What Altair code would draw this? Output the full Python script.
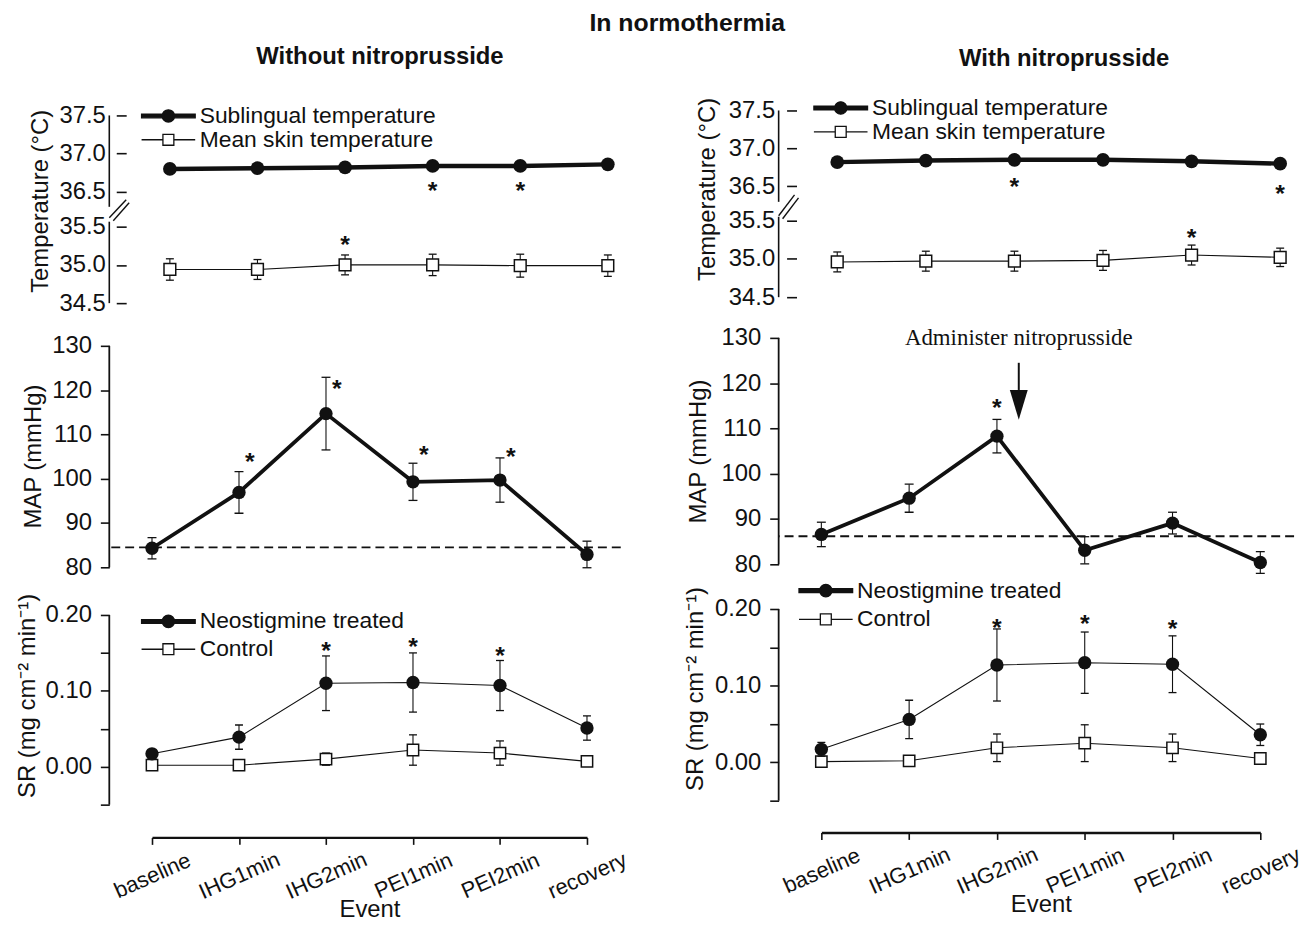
import altair as alt
import pandas as pd

EVENTS = ["baseline", "IHG1min", "IHG2min", "PEI1min", "PEI2min", "recovery"]
TEMP_SERIES = ["Sublingual temperature", "Mean skin temperature"]
SR_SERIES = ["Neostigmine treated", "Control"]

# ---------------- Without nitroprusside ----------------
L_SUBL = [36.80, 36.81, 36.82, 36.84, 36.84, 36.86]
L_SKIN = [34.94, 34.94, 35.00, 35.00, 34.99, 34.99]
L_SKIN_SE = [0.14, 0.13, 0.13, 0.14, 0.15, 0.14]
L_SUBL_STAR_EV = ["PEI1min", "PEI2min"]
L_SUBL_STAR_Y = [36.60, 36.60]
L_SKIN_STAR_EV = ["IHG2min"]
L_SKIN_STAR_Y = [35.35]
L_MAP = [84.3, 96.9, 114.7, 99.3, 99.7, 82.9]
L_MAP_SE = [2.4, 4.7, 8.2, 4.2, 5.0, 3.0]
L_MAP_REF = 84.5
L_MAP_STAR_EV = ["IHG1min", "IHG2min", "PEI1min", "PEI2min"]
L_MAP_STAR_Y = [105.3, 121.8, 106.9, 106.5]
L_NEO = [0.017, 0.039, 0.110, 0.111, 0.107, 0.051]
L_NEO_SE = [0.004, 0.016, 0.036, 0.039, 0.033, 0.016]
L_CTL = [0.002, 0.002, 0.010, 0.022, 0.018, 0.007]
L_CTL_SE = [0.001, 0.001, 0.008, 0.020, 0.016, 0.002]
L_SR_STAR_EV = ["IHG2min", "PEI1min", "PEI2min"]
L_SR_STAR_Y = [0.162, 0.167, 0.155]

# ---------------- With nitroprusside ----------------
R_SUBL = [36.82, 36.84, 36.85, 36.85, 36.83, 36.80]
R_SKIN = [34.96, 34.97, 34.97, 34.98, 35.05, 35.02]
R_SKIN_SE = [0.13, 0.13, 0.13, 0.13, 0.13, 0.12]
R_SUBL_STAR_EV = ["IHG2min", "recovery"]
R_SUBL_STAR_Y = [36.58, 36.49]
R_SKIN_STAR_EV = ["PEI2min"]
R_SKIN_STAR_Y = [35.36]
R_MAP = [86.6, 94.6, 108.3, 83.1, 89.1, 80.4]
R_MAP_SE = [2.7, 3.1, 3.7, 3.0, 2.4, 2.4]
R_MAP_REF = 86.2
R_MAP_STAR_EV = ["IHG2min"]
R_MAP_STAR_Y = [116.0]
R_NEO = [0.017, 0.056, 0.127, 0.130, 0.128, 0.036]
R_NEO_SE = [0.009, 0.025, 0.047, 0.040, 0.037, 0.014]
R_CTL = [0.001, 0.002, 0.019, 0.025, 0.019, 0.005]
R_CTL_SE = [0.001, 0.001, 0.018, 0.024, 0.018, 0.002]
R_SR_STAR_EV = ["IHG2min", "PEI1min", "PEI2min"]
R_SR_STAR_Y = [0.184, 0.189, 0.183]

ANNOT_TEXT = "Administer nitroprusside"
ANNOT_EVENT = "IHG2min"
ANNOT_Y = 130.0
ARROW_TOP = 124.5
ARROW_BASE = 118.5
ARROW_HEAD = 115.2

MAP_TICKS = [80, 90, 100, 110, 120, 130]
SR_TICKS = [-0.05, 0.0, 0.05, 0.10, 0.15, 0.20]

DATA = {
    "left": dict(subl=L_SUBL, skin=L_SKIN, skin_se=L_SKIN_SE,
                 subl_star=(L_SUBL_STAR_EV, L_SUBL_STAR_Y), skin_star=(L_SKIN_STAR_EV, L_SKIN_STAR_Y),
                 map=L_MAP, map_se=L_MAP_SE, map_ref=L_MAP_REF, map_star=(L_MAP_STAR_EV, L_MAP_STAR_Y),
                 neo=L_NEO, neo_se=L_NEO_SE, ctl=L_CTL, ctl_se=L_CTL_SE, sr_star=(L_SR_STAR_EV, L_SR_STAR_Y)),
    "right": dict(subl=R_SUBL, skin=R_SKIN, skin_se=R_SKIN_SE,
                  subl_star=(R_SUBL_STAR_EV, R_SUBL_STAR_Y), skin_star=(R_SKIN_STAR_EV, R_SKIN_STAR_Y),
                  map=R_MAP, map_se=R_MAP_SE, map_ref=R_MAP_REF, map_star=(R_MAP_STAR_EV, R_MAP_STAR_Y),
                  neo=R_NEO, neo_se=R_NEO_SE, ctl=R_CTL, ctl_se=R_CTL_SE, sr_star=(R_SR_STAR_EV, R_SR_STAR_Y)),
}

FONT = "Liberation Sans"
SERIF = "Liberation Serif"
INK = "#111111"
LBL = 24      # tick label size
XLBL = 22     # event label size
TTL = 24      # axis title size
LEG = 23      # legend label size

PATH_FILLED = ("M-2.7,-0.19H-0.5V0.19H-2.7Z M0.5,-0.19H2.7V0.19H0.5Z "
               "M-0.62,0A0.62,0.62 0 1,1 0.62,0A0.62,0.62 0 1,1 -0.62,0Z")
PATH_OPEN = "M-2.7,0H-0.55M0.55,0H2.7M-0.55,-0.55H0.55V0.55H-0.55Z"
PATH_ARROW = "M-0.6,-1H0.6L0,1Z"

LAYOUT = {
    "left": dict(W=515, x_temp=[61, 502], x_main=[43, 481],
                 tu_dom=[36.37, 37.565], tu_h=92, tu_line=(5, 97),
                 tl_dom=[34.5, 35.63], tl_h=87, tl_line=(5, 87),
                 map_dom=[80, 136.28], map_h=251, map_title=(-76, 139),
                 sr_dom=[-0.05, 0.2432], sr_h=224, sr_title=(-82, 114),
                 t_off=-17, t_lpad=11, temp_title=(-86, -16),
                 tleg=(48, -6, -5), sleg=(48, 28, 4), star_dx=11,
                 xaxis_off=33, title_dx=15, title_off=35, col_title="Without nitroprusside",
                 brk=[(0, 1, 17, -17), (4, 4, 20, -14)]),
    "right": dict(W=519, x_temp=[59, 505], x_main=[43, 485],
                  tu_dom=[36.297, 37.5], tu_h=92, tu_line=(0, 92),
                  tl_dom=[34.5, 35.55], tl_h=81, tl_line=(0, 81),
                  map_dom=[80, 134.386], map_h=248, map_title=(-81, 134),
                  sr_dom=[-0.05, 0.235], sr_h=220, sr_title=(-84, 107),
                  t_off=-18, t_lpad=12, temp_title=(-90, -28),
                  tleg=(51, -14, -5), sleg=(36, -3, 5), star_dx=0,
                  xaxis_off=32, title_dx=28, title_off=26, col_title="With nitroprusside",
                  brk=[(0, -1, 16, -22), (4, 2, 20, -19)]),
}

ONE = pd.DataFrame({"k": [0]})


def xenc(rng, axis=None):
    return alt.X("event:N", sort=EVENTS,
                 scale=alt.Scale(type="point", domain=EVENTS, range=rng, padding=0),
                 axis=axis)


def yq(field, dom, axis):
    return alt.Y(f"{field}:Q", scale=alt.Scale(domain=dom, nice=False, zero=False), axis=axis)


def errbars(df, x, mean, se, dom, axis, cap=9):
    b = alt.Chart(df).transform_calculate(
        lo=f"datum['{mean}'] - datum['{se}']", hi=f"datum['{mean}'] + datum['{se}']")
    bar = b.mark_rule(color=INK, strokeWidth=1.1).encode(x=x, y=yq("lo", dom, axis), y2=alt.Y2("hi:Q"))
    t1 = b.mark_tick(color=INK, thickness=1.3, size=cap, opacity=1).encode(x=x, y=yq("lo", dom, axis))
    t2 = b.mark_tick(color=INK, thickness=1.3, size=cap, opacity=1).encode(x=x, y=yq("hi", dom, axis))
    return [bar, t1, t2]


def stars(star, x, dom, axis, dx=0):
    ev, ys = star
    df = pd.DataFrame({"event": ev, "y": ys})
    return alt.Chart(df).mark_text(text="*", font=FONT, fontSize=25, fontWeight="bold", color=INK,
                                   baseline="middle", dx=dx, dy=7).encode(x=x, y=yq("y", dom, axis))


def legend_layer(names, pos):
    lx, ly, rp = pos
    df = pd.DataFrame({"series": names})
    leg = alt.Legend(title=None, orient="none", legendX=lx, legendY=ly, padding=0,
                     labelFont=FONT, labelFontSize=LEG, labelColor=INK, labelLimit=500,
                     symbolSize=400, symbolStrokeWidth=1.3, symbolStrokeColor=INK,
                     symbolOpacity=1, labelOffset=20, rowPadding=rp)
    return alt.Chart(df).transform_filter("false").mark_point(
        opacity=1, stroke=INK, strokeWidth=1.3).encode(
        shape=alt.Shape("series:N", scale=alt.Scale(domain=names, range=[PATH_FILLED, PATH_OPEN]), legend=leg),
        fill=alt.Fill("series:N", scale=alt.Scale(domain=names, range=[INK, "white"]), legend=leg),
        stroke=alt.Stroke("series:N", scale=alt.Scale(domain=names, range=[INK, INK]), legend=leg),
    )


def vline(span):
    y0, y1 = span
    return alt.Chart(ONE).mark_rule(color=INK, strokeWidth=1.6).encode(
        x=alt.value(0), y=alt.value(y0), y2=alt.value(y1))


def axis_line(top, bottom, dom, axis):
    df = pd.DataFrame({"top": [top], "bottom": [bottom]})
    return alt.Chart(df).mark_rule(color=INK, strokeWidth=1.8).encode(
        x=alt.value(0), y=yq("top", dom, axis), y2=alt.Y2("bottom:Q"))


def seg(s):
    x0, y0, x1, y1 = s
    return alt.Chart(ONE).mark_rule(color=INK, strokeWidth=1.4).encode(
        x=alt.value(x0), y=alt.value(y0), x2=alt.value(x1), y2=alt.value(y1))


def ytitle(title, pos):
    tx, ty = pos
    return dict(title=title, titleX=tx, titleY=ty, titleAngle=270, titleAlign="center",
                titleBaseline="middle", titleFont=FONT, titleFontSize=TTL,
                titleFontWeight="normal", titleColor=INK)


def temp_axis(values, L, title=None):
    kw = dict(values=values, format=".1f", domain=False, offset=L["t_off"], tickSize=10,
              tickWidth=1.6, tickColor=INK, labelPadding=L["t_lpad"], labelFont=FONT,
              labelFontSize=LBL, labelColor=INK, grid=False)
    if title:
        kw.update(ytitle(title, L["temp_title"]))
    else:
        kw["title"] = None
    return alt.Axis(**kw)


def cells(side):
    L = LAYOUT[side]
    D = DATA[side]
    W = L["W"]
    xt = xenc(L["x_temp"])
    xm = xenc(L["x_main"])

    # ---- temperature, upper part (sublingual)
    dU = L["tu_dom"]
    axU = temp_axis([36.5, 37.0, 37.5], L)
    df_u = pd.DataFrame({"event": EVENTS, "subl": D["subl"]})
    tU = alt.layer(
        vline(L["tu_line"]),
        alt.Chart(df_u).mark_line(color=INK, strokeWidth=4.5).encode(x=xt, y=yq("subl", dU, axU)),
        alt.Chart(df_u).mark_point(shape="circle", filled=True, size=190, color=INK, opacity=1).encode(
            x=xt, y=yq("subl", dU, axU)),
        stars(D["subl_star"], xt, dU, axU),
        legend_layer(TEMP_SERIES, L["tleg"]),
    ).properties(width=W, height=L["tu_h"],
                 title=alt.TitleParams(L["col_title"], font=FONT, fontSize=24, fontWeight="bold",
                                       color=INK, anchor="middle", frame="group",
                                       offset=L["title_off"], dx=L["title_dx"]))

    # ---- temperature, lower part (mean skin)
    dL = L["tl_dom"]
    axL = temp_axis([34.5, 35.0, 35.5], L, title="Temperature (°C)")
    df_l = pd.DataFrame({"event": EVENTS, "skin": D["skin"], "se": D["skin_se"]})
    tL = alt.layer(
        vline(L["tl_line"]),
        seg(L["brk"][0]), seg(L["brk"][1]),
        *errbars(df_l, xt, "skin", "se", dL, axL, cap=8),
        alt.Chart(df_l).mark_line(color=INK, strokeWidth=1.1).encode(x=xt, y=yq("skin", dL, axL)),
        alt.Chart(df_l).mark_point(shape="square", fill="white", stroke=INK, strokeWidth=1.5,
                                   size=140, opacity=1).encode(x=xt, y=yq("skin", dL, axL)),
        stars(D["skin_star"], xt, dL, axL),
    ).properties(width=W, height=L["tl_h"])

    # ---- MAP
    dM = L["map_dom"]
    axM = alt.Axis(values=MAP_TICKS, domain=False, tickSize=9, tickWidth=1.6, tickColor=INK,
                   labelPadding=9, labelFont=FONT, labelFontSize=LBL, labelColor=INK, grid=False,
                   **ytitle("MAP (mmHg)", L["map_title"]))
    df_m = pd.DataFrame({"event": EVENTS, "map": D["map"], "se": D["map_se"]})
    map_layers = [
        axis_line(MAP_TICKS[-1], MAP_TICKS[0], dM, axM),
        alt.Chart(ONE).mark_rule(color=INK, strokeWidth=2, strokeDash=[9, 5]).encode(
            y=alt.YDatum(D["map_ref"], type="quantitative",
                         scale=alt.Scale(domain=dM, nice=False, zero=False), axis=axM)),
        *errbars(df_m, xm, "map", "se", dM, axM, cap=9),
        alt.Chart(df_m).mark_line(color=INK, strokeWidth=3.8).encode(x=xm, y=yq("map", dM, axM)),
        alt.Chart(df_m).mark_point(shape="circle", filled=True, size=180, color=INK, opacity=1).encode(
            x=xm, y=yq("map", dM, axM)),
        stars(D["map_star"], xm, dM, axM, dx=L["star_dx"]),
    ]
    if side == "right":
        df_a = pd.DataFrame({"event": [ANNOT_EVENT], "ty": [ANNOT_Y], "a0": [ARROW_TOP],
                             "a1": [ARROW_BASE], "ah": [ARROW_HEAD], "label": [ANNOT_TEXT]})
        map_layers += [
            alt.Chart(df_a).mark_text(font=SERIF, fontSize=23, color=INK, dx=22, baseline="middle").encode(
                x=xm, y=yq("ty", dM, axM), text="label:N"),
            alt.Chart(df_a).mark_rule(color=INK, strokeWidth=2, xOffset=22).encode(
                x=xm, y=yq("a0", dM, axM), y2=alt.Y2("a1:Q")),
            alt.Chart(df_a).mark_point(shape=PATH_ARROW, filled=True, size=900, color=INK, opacity=1,
                                       xOffset=22).encode(x=xm, y=yq("ah", dM, axM)),
        ]
    mapc = alt.layer(*map_layers).properties(width=W, height=L["map_h"])

    # ---- SR
    dS = L["sr_dom"]
    axS = alt.Axis(values=SR_TICKS,
                   labelExpr="indexof(['0.00','0.10','0.20'], format(datum.value, '.2f')) >= 0 ? format(datum.value, '.2f') : ''",
                   domain=False, tickSize=9, tickWidth=1.6, tickColor=INK,
                   labelPadding=9, labelFont=FONT, labelFontSize=LBL, labelColor=INK, grid=False,
                   labelOverlap=False, **ytitle("SR (mg   cm⁻²   min⁻¹)", L["sr_title"]))
    axX = alt.Axis(offset=L["xaxis_off"], labelAngle=336, labelAlign="center", labelBaseline="middle",
                   labelPadding=31, tickSize=7, tickWidth=1.6, tickColor=INK, domainWidth=2.4,
                   domainColor=INK, labelFont=FONT, labelFontSize=XLBL, labelColor=INK,
                   labelOverlap=False, title="Event", titleFont=FONT, titleFontSize=TTL,
                   titleFontWeight="normal", titleColor=INK, titleY=73, titleBaseline="middle")
    xs = xenc(L["x_main"], axis=axX)
    df_s = pd.DataFrame({"event": EVENTS, "neo": D["neo"], "neo_se": D["neo_se"],
                         "ctl": D["ctl"], "ctl_se": D["ctl_se"]})
    sr = alt.layer(
        axis_line(SR_TICKS[-1], SR_TICKS[0], dS, axS),
        *errbars(df_s, xs, "ctl", "ctl_se", dS, axS, cap=8),
        alt.Chart(df_s).mark_line(color=INK, strokeWidth=1.1).encode(x=xs, y=yq("ctl", dS, axS)),
        alt.Chart(df_s).mark_point(shape="square", fill="white", stroke=INK, strokeWidth=1.5,
                                   size=130, opacity=1).encode(x=xs, y=yq("ctl", dS, axS)),
        *errbars(df_s, xs, "neo", "neo_se", dS, axS, cap=8),
        alt.Chart(df_s).mark_line(color=INK, strokeWidth=1.1).encode(x=xs, y=yq("neo", dS, axS)),
        alt.Chart(df_s).mark_point(shape="circle", filled=True, size=180, color=INK, opacity=1).encode(
            x=xs, y=yq("neo", dS, axS)),
        stars(D["sr_star"], xs, dS, axS),
        legend_layer(SR_SERIES, L["sleg"]),
    ).properties(width=W, height=L["sr_h"])

    return [tU, tL, mapc, sr]


left = cells("left")
right = cells("right")
grid = [c for pair in zip(left, right) for c in pair]

chart = alt.concat(
    *grid, columns=2, spacing={"row": 15, "column": 159}, bounds="flush",
    title=alt.TitleParams("In normothermia", font=FONT, fontSize=25, fontWeight="bold", color=INK,
                          anchor="middle", offset=9, dx=28),
    padding={"left": 8, "top": 0, "right": 0, "bottom": 0},
).resolve_scale(x="independent", y="independent", shape="independent", fill="independent",
                stroke="independent"
).configure_view(stroke=None).configure_axis(grid=False)

chart.save("out.html", embed_options={"renderer": "svg", "actions": False})
